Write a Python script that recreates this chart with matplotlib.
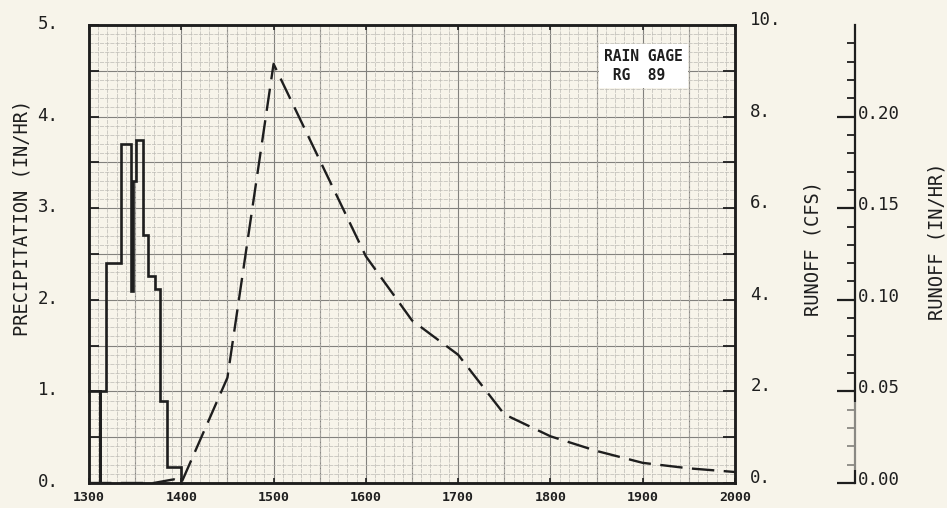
import matplotlib
matplotlib.use("Agg")
import matplotlib.pyplot as plt
import matplotlib.transforms as mtransforms
from matplotlib.patches import Rectangle
from matplotlib.ticker import MultipleLocator, FixedLocator
import numpy as np

# rainfall rate hyetograph (pen path, in/hr)
precip_time = [1300, 1312, 1312, 1312, 1318, 1318, 1335, 1335, 1345, 1345,
               1348, 1348, 1351, 1351, 1358, 1358, 1364, 1364, 1371, 1371,
               1377, 1377, 1384, 1384, 1400, 1400]
precip_rate = [1.0, 1.0, 0.0, 1.0, 1.0, 2.4, 2.4, 3.7, 3.7, 2.1,
               2.1, 3.3, 3.3, 3.74, 3.74, 2.71, 2.71, 2.26, 2.26, 2.12,
               2.12, 0.89, 0.89, 0.17, 0.17, 0.0]

# runoff hydrograph (cfs)
runoff_time = [1300, 1370, 1392, 1400, 1450, 1500, 1600, 1650, 1700, 1750,
               1800, 1850, 1900, 1950, 2000]
runoff_cfs = [0.0, 0.0, 0.08, 0.0, 2.3, 9.15, 4.95, 3.55, 2.8, 1.5,
              1.02, 0.70, 0.44, 0.32, 0.24]

x_ticks = [1300, 1400, 1500, 1600, 1700, 1800, 1900, 2000]
inhr_ticks = [0.00, 0.05, 0.10, 0.15, 0.20]

paper = "#f7f4ea"
ink = "#1e1e1e"
mono = "DejaVu Sans Mono"


def nudge_up(labels, px):
    for lab in labels:
        lab.set_transform(lab.get_transform() +
                          mtransforms.ScaledTranslation(0, px / 100, fig.dpi_scale_trans))


fig = plt.figure(figsize=(9.47, 5.08), dpi=100, facecolor=paper)
ax = fig.add_axes([89 / 947, 25 / 508, 646 / 947, 458 / 508])
ax.set_facecolor(paper)
ax.set_xlim(1300, 2000)
ax.set_ylim(0, 5)

# graph paper: fine 10-min / 0.1 grid plus heavier 50-min / 0.5 lines
ax.xaxis.set_minor_locator(MultipleLocator(10))
ax.yaxis.set_minor_locator(MultipleLocator(0.1))
ax.grid(which="minor", color="#bcbab4", lw=0.5, ls=(0, (6, 1.5)))
ax.grid(which="major", visible=False)
ax.vlines(np.arange(1350, 2000, 50), 0, 5, color="#82817d", lw=0.8, zorder=1)
ax.hlines(np.arange(0.5, 5, 0.5), 1300, 2000, color="#82817d", lw=0.8, zorder=1)

ax.plot(precip_time, precip_rate, color=ink, lw=1.9, solid_joinstyle="miter",
        zorder=4, clip_on=False)

ax2 = ax.twinx()
ax2.set_ylim(0, 10)
ax2.plot(runoff_time, runoff_cfs, color=ink, lw=1.7, dashes=(9.5, 4), zorder=4)

for a in (ax, ax2):
    for s in a.spines.values():
        s.set_linewidth(1.8)
        s.set_color(ink)

ax.set_xticks(x_ticks)
ax.set_xticklabels([str(t) for t in x_ticks], fontfamily=mono,
                   fontweight="bold", fontsize=9.5, color=ink)
ax.tick_params(axis="x", which="major", direction="in", length=3.6, width=1.2,
               top=True, pad=6, colors=ink)
ax.tick_params(axis="both", which="minor", length=0)

ax.yaxis.set_major_locator(MultipleLocator(0.5))
ax.set_yticklabels([f"{int(v)}." if v == int(v) else "" for v in ax.get_yticks()],
                   fontfamily=mono, fontsize=12.5, color=ink)
ax.tick_params(axis="y", which="major", direction="in", length=7, width=1.3,
               pad=22, colors=ink)
nudge_up(ax.get_yticklabels(), 3)

ax2.yaxis.set_major_locator(MultipleLocator(1))
ax2.set_yticklabels([f"{int(v)}." if int(v) % 2 == 0 else "" for v in ax2.get_yticks()],
                    fontfamily=mono, fontsize=12.5, color=ink)
ax2.tick_params(axis="y", which="major", direction="in", length=8.5, width=1.3,
                pad=11, colors=ink)
nudge_up(ax2.get_yticklabels(), 7)

ax.text(0.797, 0.948, "RAIN GAGE\n RG  89", transform=ax.transAxes,
        fontfamily=mono, fontsize=10.5, fontweight="bold", color=ink,
        va="top", ha="left", linespacing=1.35, zorder=6,
        bbox=dict(boxstyle="square,pad=0.35", fc="white", ec="none"))

# separate runoff depth scale
ax3 = fig.add_axes([800 / 947, 25 / 508, 55 / 947, 458 / 508])
ax3.set_facecolor("none")
ax3.set_xticks([])
ax3.set_ylim(0, 0.25)
for side in ("left", "top", "bottom"):
    ax3.spines[side].set_visible(False)
ax3.spines["right"].set_linewidth(1.6)
ax3.spines["right"].set_color(ink)
ax3.yaxis.tick_right()
ax3.yaxis.set_major_locator(FixedLocator(inhr_ticks))
ax3.yaxis.set_minor_locator(FixedLocator(np.arange(0.01, 0.245, 0.01)))
ax3.set_yticklabels([f"{v:.2f}" for v in inhr_ticks], fontfamily=mono,
                    fontsize=12.5, color=ink)
ax3.tick_params(axis="y", which="major", direction="in", length=13, width=1.6,
                pad=2, colors=ink)
ax3.tick_params(axis="y", which="minor", direction="in", length=6, width=1.3,
                colors=ink)
nudge_up(ax3.get_yticklabels(), 5)

# faded patch on the paper over the lower end of the depth scale
fig.patches.append(Rectangle((834 / 947, 38 / 508), 34 / 947, 68 / 508,
                             transform=fig.transFigure, fc=paper, ec="none",
                             alpha=0.5, zorder=10))

fig.text(22 / 947, 1 - 218 / 508, "PRECIPITATION (IN/HR)", rotation=90,
         fontfamily=mono, fontsize=13.5, color=ink, ha="center", va="center")
fig.text(813 / 947, 1 - 248 / 508, "RUNOFF (CFS)", rotation=90,
         fontfamily=mono, fontsize=13.5, color=ink, ha="center", va="center")
fig.text(937 / 947, 1 - 241 / 508, "RUNOFF (IN/HR)", rotation=90,
         fontfamily=mono, fontsize=13.5, color=ink, ha="center", va="center")

fig.savefig("out.png", dpi=100, facecolor=paper)
